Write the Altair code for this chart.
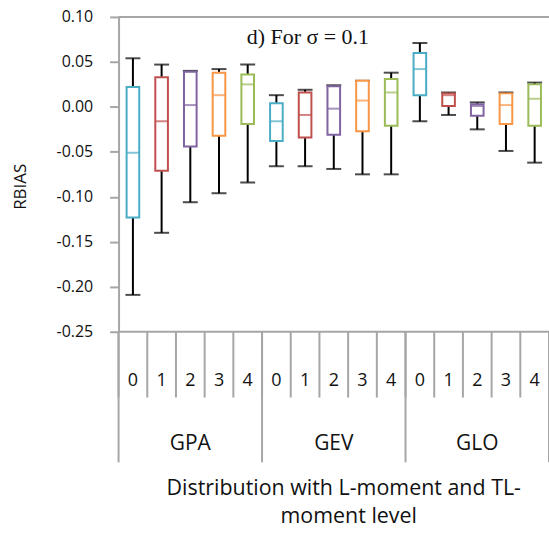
import altair as alt
import pandas as pd

groups = ["GPA", "GPA", "GPA", "GPA", "GPA",
          "GEV", "GEV", "GEV", "GEV", "GEV",
          "GLO", "GLO", "GLO", "GLO", "GLO"]
levels = ["0", "1", "2", "3", "4"] * 3
whisker_low = [-0.209, -0.140, -0.106, -0.096, -0.084,
               -0.066, -0.066, -0.069, -0.075, -0.075,
               -0.016, -0.009, -0.025, -0.049, -0.062]
q1 = [-0.123, -0.071, -0.044, -0.032, -0.019,
      -0.038, -0.034, -0.031, -0.027, -0.021,
      0.013, 0.001, -0.010, -0.019, -0.021]
median = [-0.051, -0.016, 0.002, 0.013, 0.025,
          -0.016, -0.009, -0.002, 0.007, 0.016,
          0.042, 0.013, 0.001, 0.002, 0.009]
q3 = [0.022, 0.033, 0.039, 0.038, 0.036,
      0.004, 0.016, 0.023, 0.029, 0.031,
      0.060, 0.015, 0.003, 0.015, 0.025]
whisker_high = [0.054, 0.047, 0.040, 0.042, 0.047,
                0.013, 0.019, 0.024, 0.029, 0.038,
                0.071, 0.016, 0.005, 0.016, 0.027]
level_colors = ["#4BACC6", "#C0504D", "#8064A2", "#F79646", "#9BBB59"]
group_names = ["GPA", "GEV", "GLO"]
y_ticks = [-0.25, -0.20, -0.15, -0.10, -0.05, 0.00, 0.05, 0.10]

W, H = 432, 316
SANS = "Open Sans"
AX = "#A6A6A6"

df = pd.DataFrame({
    "pos": list(range(len(groups))),
    "group": groups, "level": levels,
    "lo": whisker_low, "q1": q1, "med": median, "q3": q3, "hi": whisker_high,
})
gdf = pd.DataFrame({"group": group_names, "gpos": [2, 7, 12]})
bounds = pd.DataFrame({"b": [i - 0.5 for i in range(16)]})
gbounds = pd.DataFrame({"b": [-0.5, 4.5, 9.5, 14.5]})

xs = alt.Scale(domain=[-0.5, 14.5], nice=False, zero=False)
ys = alt.Scale(domain=[-0.25, 0.10], nice=False, zero=False)
cs = alt.Scale(domain=["0", "1", "2", "3", "4"], range=level_colors)
X = alt.X("pos:Q", scale=xs, axis=None)

base = alt.Chart(df)

whisk = base.mark_rule(color="black", strokeWidth=2).encode(
    x=X,
    y=alt.Y("lo:Q", scale=ys, axis=alt.Axis(
        values=y_ticks, title="RBIAS",
        labelExpr="datum.value < 0 ? '-' + format(abs(datum.value), '.2f') : format(datum.value, '.2f')",
        labelFont=SANS, labelFontSize=16, labelColor="#111",
        labelPadding=17, tickSize=9, tickWidth=2, tickColor=AX,
        domainColor=AX, domainWidth=2, grid=False,
        titleFont=SANS, titleFontSize=17, titleFontWeight="normal", titleColor="#111",
        titleAngle=-90, titleX=-98, titleY=170, titleAlign="center", titleBaseline="middle")),
    y2="hi:Q",
)
caps_lo = base.mark_tick(orient="horizontal", color="black", size=15, thickness=2).encode(
    x=X, y=alt.Y("lo:Q", scale=ys))
caps_hi = base.mark_tick(orient="horizontal", color="black", size=15, thickness=2).encode(
    x=X, y=alt.Y("hi:Q", scale=ys))
box = base.transform_calculate(
    xl="datum.pos - 0.22", xr="datum.pos + 0.22"
).mark_rect(fill="white", strokeWidth=2).encode(
    x=alt.X("xl:Q", scale=xs, axis=None), x2="xr:Q",
    y=alt.Y("q1:Q", scale=ys), y2="q3:Q",
    stroke=alt.Stroke("level:N", scale=cs, legend=None),
)
med = base.mark_tick(orient="horizontal", size=12, thickness=2).encode(
    x=X, y=alt.Y("med:Q", scale=ys),
    color=alt.Color("level:N", scale=cs, legend=None),
)

top_line = alt.Chart(pd.DataFrame({"v": [0.10]})).mark_rule(color=AX, strokeWidth=2).encode(
    y=alt.Y("v:Q", scale=ys), x=alt.value(0), x2=alt.value(W + 5))
bot_line = alt.Chart(pd.DataFrame({"v": [-0.25]})).mark_rule(color=AX, strokeWidth=2).encode(
    y=alt.Y("v:Q", scale=ys), x=alt.value(0), x2=alt.value(W + 5))

lev_div = alt.Chart(bounds).mark_rule(color=AX, strokeWidth=2).encode(
    x=alt.X("b:Q", scale=xs, axis=None), y=alt.value(H), y2=alt.value(H + 66))
grp_div = alt.Chart(gbounds).mark_rule(color=AX, strokeWidth=2).encode(
    x=alt.X("b:Q", scale=xs, axis=None), y=alt.value(H), y2=alt.value(H + 131))

lev_txt = base.mark_text(font=SANS, fontSize=18, color="#111", baseline="alphabetic").encode(
    x=X, y=alt.value(H + 54), text="level:N")
grp_txt = alt.Chart(gdf).mark_text(font=SANS, fontSize=21, color="#111", baseline="alphabetic").encode(
    x=alt.X("gpos:Q", scale=xs, axis=None), y=alt.value(H + 119), text="group:N")

xt1 = alt.Chart(pd.DataFrame({"t": ["Distribution with L-moment and TL-"]})).mark_text(
    font=SANS, fontSize=21.5, color="#111", baseline="alphabetic").encode(
    x=alt.value(226), y=alt.value(480), text="t:N")
xt2 = alt.Chart(pd.DataFrame({"t": ["moment level"]})).mark_text(
    font=SANS, fontSize=21.5, color="#111", baseline="alphabetic").encode(
    x=alt.value(231), y=alt.value(508), text="t:N")

note = alt.Chart(pd.DataFrame({"t": ["d) For σ = 0.1"]})).mark_text(
    font="Liberation Serif", fontSize=22, color="#111", baseline="alphabetic").encode(
    x=alt.value(190), y=alt.value(27), text="t:N")

chart = alt.layer(
    top_line, bot_line, lev_div, grp_div, whisk, caps_lo, caps_hi, box, med,
    lev_txt, grp_txt, xt1, xt2, note
).properties(
    width=W, height=H,
    autosize=alt.AutoSizeParams(type="none"),
    padding={"left": 119, "top": 16, "right": 0, "bottom": 201},
).configure_view(stroke=None)

chart.save("out.html", embed_options={"renderer": "svg", "actions": False})
